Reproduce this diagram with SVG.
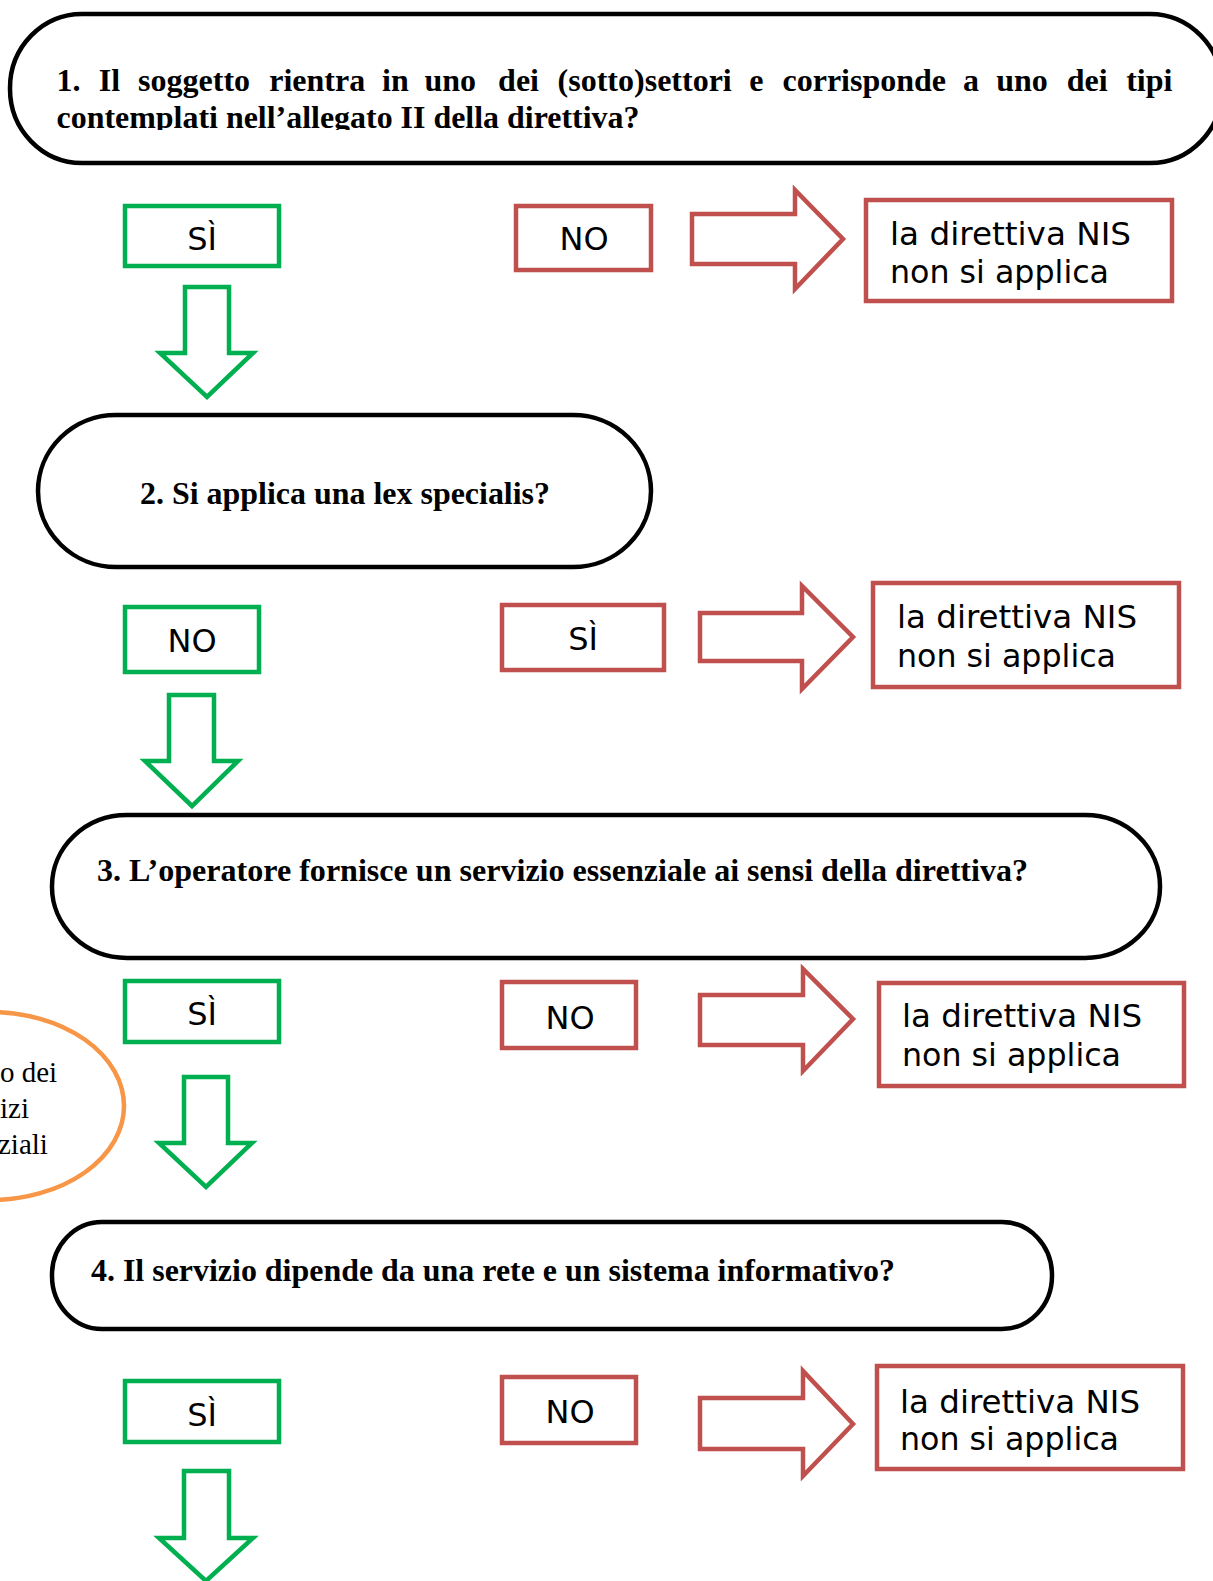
<svg xmlns="http://www.w3.org/2000/svg" width="1213" height="1581" viewBox="0 0 1213 1581">
<style>
.q{fill:#fff;stroke:#000;stroke-width:4.5}
.qt{font-family:"Liberation Serif","Times New Roman",serif;font-weight:bold;font-size:32px;fill:#000}
.g{fill:#fff;stroke:#00B050;stroke-width:4.5}
.r{fill:#fff;stroke:#C0504D;stroke-width:4.5}
.bt{font-family:"DejaVu Sans",Verdana,sans-serif;font-size:32px;fill:#000}
.c{text-anchor:middle}
.o{fill:#fff;stroke:#F79646;stroke-width:4.5}
.ot{font-family:"Liberation Serif","Times New Roman",serif;font-size:29px;fill:#000}
</style>
<defs>
<clipPath id="clip1"><rect x="0" y="0" width="1213" height="130"/></clipPath>
</defs>
<rect width="1213" height="1581" fill="#fff"/>

<g id="q1">
<rect class="q" x="10" y="14" width="1212" height="149" rx="72" ry="74"/>
<g clip-path="url(#clip1)">
<text class="qt" y="91"><tspan x="56.5">1.</tspan><tspan x="98.8">Il</tspan><tspan x="138.1">soggetto</tspan><tspan x="269.2">rientra</tspan><tspan x="382.1">in</tspan><tspan x="424.5">uno</tspan><tspan x="498.1">dei</tspan><tspan x="557.6">(sotto)settori</tspan><tspan x="749.2">e</tspan><tspan x="782.5">corrisponde</tspan><tspan x="963">a</tspan><tspan x="996.2">uno</tspan><tspan x="1066.8">dei</tspan><tspan x="1126.2">tipi</tspan></text>
<text class="qt" x="56.5" y="128" textLength="583" lengthAdjust="spacingAndGlyphs">contemplati nell’allegato II della direttiva?</text>
</g>
</g>
<g id="yes1"><rect class="g" x="125" y="206" width="154" height="60"/><text class="bt c" x="202" y="250">SÌ</text></g>
<g id="no1"><rect class="r" x="516" y="206" width="135" height="64"/><text class="bt c" x="584" y="250">NO</text></g>
<g id="res1"><rect class="r" x="866" y="200" width="306" height="101"/><text class="bt" x="890" y="245" textLength="241" lengthAdjust="spacingAndGlyphs">la direttiva NIS</text><text class="bt" x="890" y="283" textLength="219" lengthAdjust="spacingAndGlyphs">non si applica</text></g>

<g id="q2">
<rect class="q" x="38" y="415" width="613" height="152" rx="78" ry="76"/>
<text class="qt" x="140" y="504" textLength="410" lengthAdjust="spacingAndGlyphs">2. Si applica una lex specialis?</text>
</g>
<g id="no2"><rect class="g" x="125" y="607" width="134" height="65"/><text class="bt c" x="192" y="652">NO</text></g>
<g id="yes2"><rect class="r" x="502" y="605" width="162" height="65"/><text class="bt c" x="583" y="650">SÌ</text></g>
<g id="res2"><rect class="r" x="873" y="583" width="306" height="104"/><text class="bt" x="897" y="628" textLength="240" lengthAdjust="spacingAndGlyphs">la direttiva NIS</text><text class="bt" x="897" y="667" textLength="219" lengthAdjust="spacingAndGlyphs">non si applica</text></g>

<g id="q3">
<rect class="q" x="52" y="815" width="1108" height="143" rx="75" ry="71"/>
<text class="qt" x="97" y="881" textLength="931" lengthAdjust="spacingAndGlyphs">3. L’operatore fornisce un servizio essenziale ai sensi della direttiva?</text>
</g>
<g id="yes3"><rect class="g" x="125" y="981" width="154" height="61"/><text class="bt c" x="202" y="1025">SÌ</text></g>
<g id="no3"><rect class="r" x="502" y="982" width="134" height="66"/><text class="bt c" x="570" y="1029">NO</text></g>
<g id="res3"><rect class="r" x="879" y="983" width="305" height="103"/><text class="bt" x="902" y="1027" textLength="240" lengthAdjust="spacingAndGlyphs">la direttiva NIS</text><text class="bt" x="902" y="1066" textLength="219" lengthAdjust="spacingAndGlyphs">non si applica</text></g>

<g id="note">
<ellipse class="o" cx="-10" cy="1106" rx="134" ry="94"/>
<text class="ot" x="0" y="1082">o dei</text>
<text class="ot" x="0" y="1118">izi</text>
<text class="ot" x="-2" y="1154">ziali</text>
</g>

<g id="q4">
<rect class="q" x="52" y="1222" width="1000" height="107" rx="50" ry="53"/>
<text class="qt" x="91" y="1281" textLength="804" lengthAdjust="spacingAndGlyphs">4. Il servizio dipende da una rete e un sistema informativo?</text>
</g>
<g id="yes4"><rect class="g" x="125" y="1381" width="154" height="61"/><text class="bt c" x="202" y="1426">SÌ</text></g>
<g id="no4"><rect class="r" x="502" y="1377" width="134" height="66"/><text class="bt c" x="570" y="1423">NO</text></g>
<g id="res4"><rect class="r" x="877" y="1366" width="306" height="103"/><text class="bt" x="900" y="1413" textLength="240" lengthAdjust="spacingAndGlyphs">la direttiva NIS</text><text class="bt" x="900" y="1450" textLength="219" lengthAdjust="spacingAndGlyphs">non si applica</text></g>

<g id="connectors">
<path class="r" d="M692,214 H795 V190 L843,239 L795,289 V264 H692 Z"/>
<path class="g" d="M185,287 H229 V353 H253 L207,397 L160,353 H185 Z"/>
<path class="r" d="M700,613 H802 V586 L853,637 L802,689 V661 H700 Z"/>
<path class="g" d="M169,695 H214 V761 H238 L192,806 L145,761 H169 Z"/>
<path class="r" d="M700,995 H803 V969 L853,1019 L803,1071 V1045 H700 Z"/>
<path class="g" d="M184,1077 H228 V1143 H252 L206,1187 L159,1143 H184 Z"/>
<path class="r" d="M700,1398 H803 V1371 L853,1424 L803,1476 V1449 H700 Z"/>
<path class="g" d="M184,1471 H229 V1538 H253 L206,1581 L159,1538 H184 Z"/>
</g>
</svg>
